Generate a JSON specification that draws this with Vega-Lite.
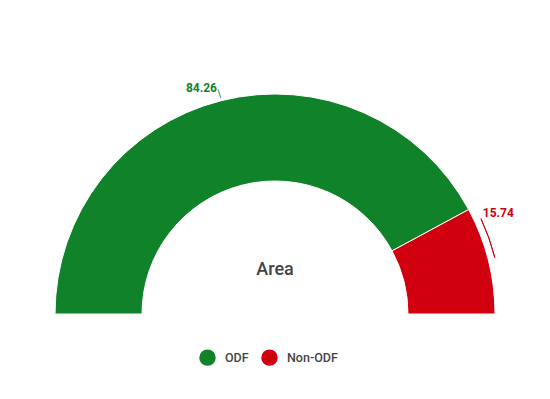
{
  "$schema": "https://vega.github.io/schema/vega-lite/v6.json",
  "width": 550,
  "height": 399,
  "padding": 0,
  "autosize": {"type": "fit", "contains": "padding"},
  "background": "white",
  "config": {"view": {"stroke": null}, "font": "Roboto"},
  "data": {"values": [
    {"category": "ODF", "value": 84.26, "idx": 1},
    {"category": "Non-ODF", "value": 15.74, "idx": 2}
  ]},
  "encoding": {
    "theta": {"field": "value", "type": "quantitative", "stack": true, "scale": {"range": [-1.5707963, 1.5707963]}},
    "order": {"field": "idx", "type": "quantitative"}
  },
  "layer": [
    {
      "mark": {"type": "arc", "radius": 220, "radius2": 133, "y": 314, "stroke": "white", "strokeWidth": 1},
      "encoding": {
        "color": {"field": "category", "type": "nominal",
          "scale": {"domain": ["ODF", "Non-ODF"], "range": ["#10822a", "#d0000f"]},
          "legend": {"title": null, "orient": "none", "legendX": 199, "legendY": 349, "direction": "horizontal",
            "symbolType": "circle", "symbolSize": 270, "symbolStrokeWidth": 0, "labelFontSize": 12.5, "labelFontWeight": 500,
            "labelColor": "#444444", "labelFont": "Roboto", "columnPadding": 12, "labelOffset": 9}}
      }
    },
    {
      "mark": {"type": "text", "radius": 237, "y": 314, "align": "right", "baseline": "middle", "dy": 4, "fontSize": 12, "fontWeight": "bold", "fill": "#10822a"},
      "encoding": {
        "text": {"field": "value", "type": "quantitative", "format": ".2f"},
        "opacity": {"condition": {"test": "datum.category == 'ODF'", "value": 1}, "value": 0}
      }
    },
    {
      "mark": {"type": "text", "radius": 224, "y": 314, "align": "center", "baseline": "middle", "dy": -3, "angle": -17, "fontSize": 11, "fill": "#10822a", "text": "|"},
      "encoding": {
        "opacity": {"condition": {"test": "datum.category == 'ODF'", "value": 1}, "value": 0}
      }
    },
    {
      "mark": {"type": "text", "radius": 237, "y": 314, "align": "left", "baseline": "middle", "dx": -22, "dy": -43, "fontSize": 12, "fontWeight": "bold", "fill": "#d0000f"},
      "encoding": {
        "text": {"field": "value", "type": "quantitative", "format": ".2f"},
        "opacity": {"condition": {"test": "datum.category == 'Non-ODF'", "value": 1}, "value": 0}
      }
    },
    {
      "data": {"values": [{"from": 86.2, "to": 92.0}]},
      "mark": {"type": "arc", "radius": 227, "radius2": 227, "y": 314, "filled": false, "stroke": "#d0000f", "strokeWidth": 1},
      "encoding": {
        "theta": {"field": "from", "type": "quantitative"},
        "theta2": {"field": "to"},
        "order": null
      }
    },
    {
      "data": {"values": [{"label": "Area"}]},
      "mark": {"type": "text", "x": 275, "y": 270, "align": "center", "baseline": "middle", "fontSize": 18, "fontWeight": 500, "fill": "#444444"},
      "encoding": {"text": {"field": "label"}, "theta": null, "order": null}
    }
  ]
}
